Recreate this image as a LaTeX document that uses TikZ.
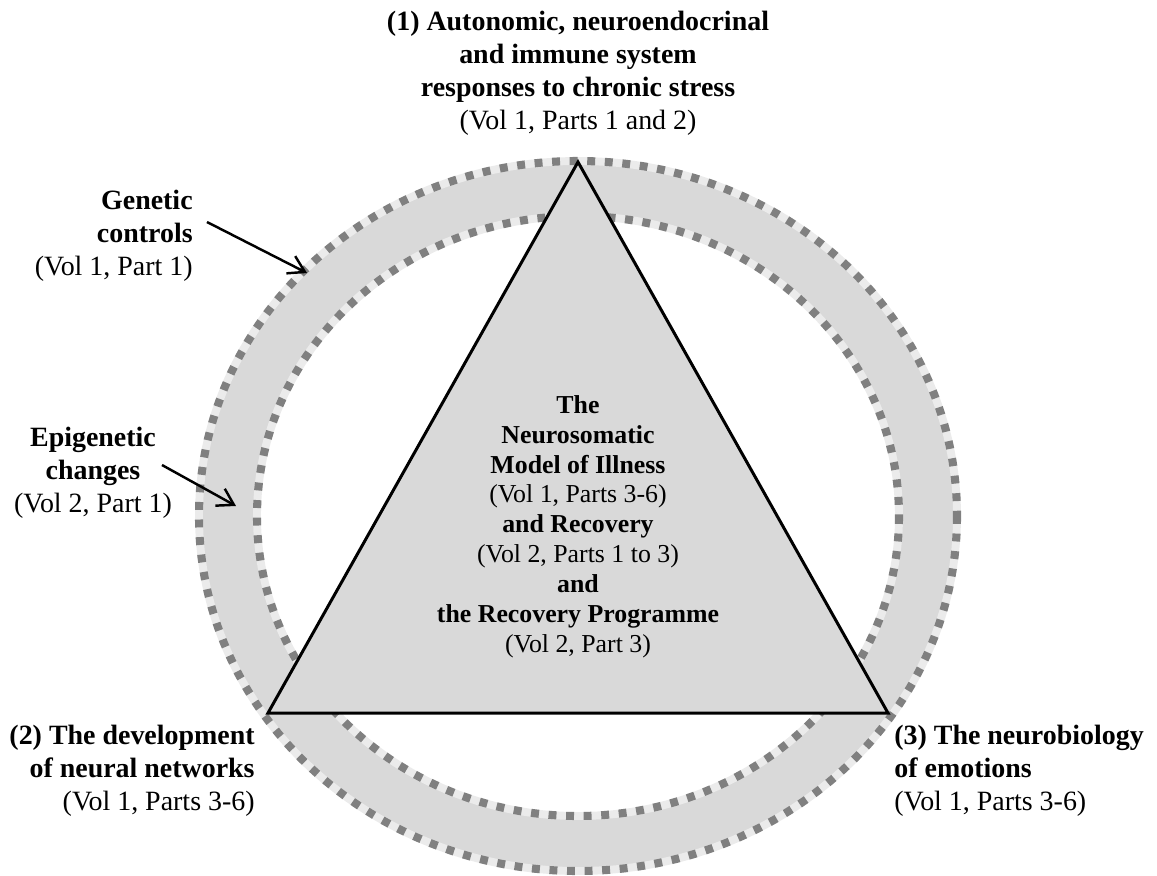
\documentclass[tikz,border=0pt]{standalone}
\usepackage{fontspec}
\setmainfont{Liberation Serif}
\usetikzlibrary{arrows.meta}
\tikzset{
  lbl/.style={font=\fontsize{15.9}{18.7}\selectfont,inner sep=0pt},
  mid/.style={font=\fontsize{14.7}{17}\selectfont,inner sep=0pt,align=center},
  ringline/.style={line width=4.5pt,draw=black!8},
  ringdots/.style={line width=4.6pt,draw=black!50,dash pattern=on 4.5pt off 5.5pt},
  pointer/.style={line width=1.4pt,-{Straight Barb[length=9pt,width=11pt]}}
}
\begin{document}
\begin{tikzpicture}[x=0.02cm,y=-0.02cm]
\useasboundingbox (0,0) rectangle (1157,876);
% ring
\fill[black!15,even odd rule] (578,516) ellipse [x radius=379,y radius=355] (578,516) ellipse [x radius=321,y radius=300];
\draw[ringline] (578,516) ellipse [x radius=379,y radius=355];
\draw[ringline] (578,516) ellipse [x radius=321,y radius=300];
\draw[ringdots] (578,516) ellipse [x radius=379,y radius=355];
\draw[ringdots] (578,516) ellipse [x radius=321,y radius=300];
% triangle
\coordinate (sys1) at (578,162);
\coordinate (sys2) at (268,713);
\coordinate (sys3) at (888,713);
\draw[fill=black!15,line width=1.7pt] (sys1) -- (sys2) -- (sys3) -- cycle;

\node[lbl,anchor=north,align=center] (stress) at (578,11) {\textbf{(1) Autonomic, neuroendocrinal}\\\textbf{and immune system}\\\textbf{responses to chronic stress}\\(Vol 1, Parts 1 and 2)};
\node[lbl,anchor=north east,align=right] (genetic) at (193,190) {\textbf{Genetic}\\\textbf{controls}\\(Vol 1, Part 1)};
\node[lbl,anchor=north,align=center] (epigenetic) at (93,427) {\textbf{Epigenetic}\\\textbf{changes}\\(Vol 2, Part 1)};
\node[lbl,anchor=north east,align=right] (neural) at (255,725) {\textbf{(2) The development}\\\textbf{of neural networks}\\(Vol 1, Parts 3-6)};
\node[lbl,anchor=north west,align=left] (emotions) at (894,725) {\textbf{(3) The neurobiology}\\\textbf{of emotions}\\(Vol 1, Parts 3-6)};
\node[mid,anchor=north] (model) at (578,395) {\textbf{The}\\\textbf{Neurosomatic}\\\textbf{Model of Illness}\\(Vol 1, Parts 3-6)\\\textbf{and Recovery}\\(Vol 2, Parts 1 to 3)\\\textbf{and}\\\textbf{the Recovery Programme}\\(Vol 2, Part 3)};

% pointers
\coordinate (genetictip) at (307,273);
\coordinate (epigenetictip) at (236,506);
\draw[pointer] ([shift={(14,32)}]genetic.north east) -- (genetictip);
\draw[pointer] ([shift={(69,38)}]epigenetic.north) -- (epigenetictip);
\end{tikzpicture}
\end{document}
